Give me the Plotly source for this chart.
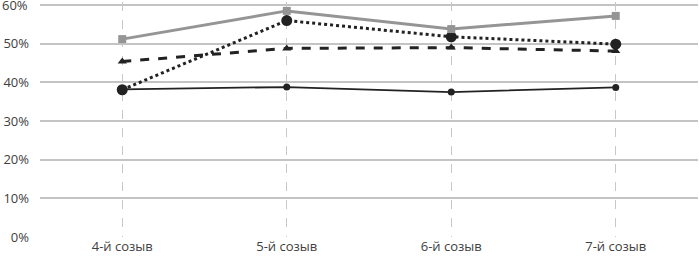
import plotly.graph_objects as go

categories = ["4-й созыв", "5-й созыв", "6-й созыв", "7-й созыв"]
series_gray = [51.2, 58.5, 53.8, 57.2]
series_dotted = [38.1, 56.0, 51.8, 49.9]
series_dashed = [45.4, 48.8, 49.0, 48.1]
series_solid = [38.2, 38.8, 37.5, 38.7]
y_ticks = [0, 10, 20, 30, 40, 50]
y_tick_labels = ["0%", "10%", "20%", "30%", "40%", "50%"]
y_top = 60
y_top_label = "60%"

fig = go.Figure()
fig.add_trace(go.Scatter(x=categories, y=series_solid, mode="lines+markers",
                         line=dict(color="#222222", width=1.8),
                         marker=dict(symbol="circle", size=7, color="#222222")))
fig.add_trace(go.Scatter(x=categories, y=series_dashed, mode="lines+markers",
                         line=dict(color="#222222", width=3, dash="dash"),
                         marker=dict(symbol="triangle-up", size=8, color="#222222")))
fig.add_trace(go.Scatter(x=categories, y=series_dotted, mode="lines+markers",
                         line=dict(color="#222222", width=3, dash="dot"),
                         marker=dict(symbol="circle", size=11, color="#222222")))
fig.add_trace(go.Scatter(x=categories, y=series_gray, mode="lines+markers",
                         line=dict(color="#959595", width=3),
                         marker=dict(symbol="square", size=8, color="#959595")))

fig.add_shape(type="line", xref="paper", yref="y", x0=0, x1=1, y0=y_top, y1=y_top,
              line=dict(color="#c4c4c4", width=2), layer="below")
fig.add_annotation(xref="paper", yref="y", x=0, y=y_top, text=y_top_label,
                   showarrow=False, xanchor="right", yanchor="middle", xshift=-10,
                   font=dict(family="Open Sans, Liberation Sans, sans-serif", size=13, color="#404040"))

fig.update_layout(
    width=699, height=262,
    margin=dict(l=40, r=1, t=2, b=25, autoexpand=False),
    paper_bgcolor="white", plot_bgcolor="white",
    showlegend=False,
    font=dict(family="Open Sans, Liberation Sans, sans-serif", size=13, color="#404040"),
)
fig.update_xaxes(type="category", range=[-0.5, 3.5], showgrid=True,
                 gridcolor="#c8c8c8", griddash="dash", gridwidth=1,
                 showline=False, zeroline=False, ticks="", automargin=False,
                 ticklabelstandoff=0)
fig.update_yaxes(range=[0, 60.8], tickvals=y_ticks, ticktext=y_tick_labels,
                 showgrid=True, gridcolor="#c4c4c4", gridwidth=2,
                 zeroline=False, showline=False, ticks="", automargin=False,
                 ticklabelstandoff=10)

fig.write_html("out.html", config={"displayModeBar": False},
               post_script="document.body.style.margin='0';")
